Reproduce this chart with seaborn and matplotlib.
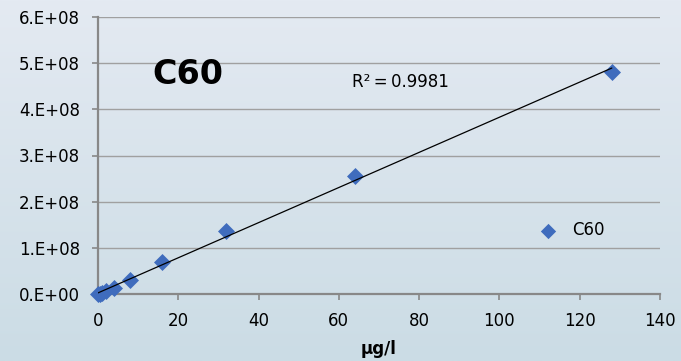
import numpy as np
import pandas as pd
import matplotlib
matplotlib.use("Agg")
import matplotlib.pyplot as plt
import seaborn as sns
from matplotlib.ticker import FuncFormatter, MultipleLocator

# Data
concentration = [0, 0.5, 1, 2, 4, 8, 16, 32, 64, 128]
signal = [0.0e8, 0.01e8, 0.03e8, 0.06e8, 0.13e8, 0.30e8, 0.70e8, 1.36e8, 2.56e8, 4.81e8]
series_name = "C60"
title_text = "C60"
r2_text = "R²\u2009=\u20090.9981"
x_label = "μg/l"

df = pd.DataFrame({"x": concentration, "y": signal})

sns.set_style("white")
plt.rcParams['font.family'] = ['DejaVu Sans']
plt.rcParams['text.color'] = 'black'
plt.rcParams['axes.labelcolor'] = 'black'
plt.rcParams['xtick.color'] = 'black'
plt.rcParams['ytick.color'] = 'black'

fig = plt.figure(figsize=(6.81, 3.61), dpi=100)

# gradient background
bg = fig.add_axes([0, 0, 1, 1], zorder=-10)
top = np.array([228, 234, 242]) / 255
bot = np.array([203, 220, 229]) / 255
t = np.linspace(0, 1, 256)[:, None]
grad = (top[None, :] * (1 - t) + bot[None, :] * t)[:, None, :]
bg.imshow(grad, aspect='auto', extent=[0, 1, 0, 1])
bg.axis('off')

ax = fig.add_axes([98/681, 1 - 294/361, (660-98)/681, (294-17)/361])
ax.set_facecolor('none')

blue = '#3f6cbd'
sns.scatterplot(data=df, x="x", y="y", marker='D', s=75, color=blue,
                edgecolor=blue, linewidth=0, ax=ax, label=series_name, zorder=3,
                clip_on=False)

# linear trendline
coef = np.polyfit(concentration, signal, 1)
xs = np.array([min(concentration), max(concentration)])
ax.plot(xs, np.polyval(coef, xs), color='black', lw=0.9, zorder=4)

ax.set_xlim(0, 140)
ax.set_ylim(0, 6e8)
ax.xaxis.set_major_locator(MultipleLocator(20))
ax.yaxis.set_major_locator(MultipleLocator(1e8))

def yfmt(v, pos):
    if abs(v) < 1:
        return "0.E+00"
    return f"{v/1e8:.0f}.E+08"
ax.yaxis.set_major_formatter(FuncFormatter(yfmt))

ax.grid(axis='y', color='#a0a0a0', lw=1.0)
ax.grid(axis='x', visible=False)
for s in ['top', 'right']:
    ax.spines[s].set_visible(False)
for s in ['left', 'bottom']:
    ax.spines[s].set_color('#888888')
    ax.spines[s].set_linewidth(1.6)
ax.tick_params(axis='both', direction='out', length=4, width=1.2, color='#888888',
               labelsize=12, labelcolor='black', pad=9)
ax.tick_params(axis='y', left=True)
ax.tick_params(axis='x', bottom=True)

ax.set_xlabel(x_label, fontsize=12, fontweight='bold', labelpad=7, color='black')
ax.set_ylabel("")

fig.text(152/681, 1 - 75/361, title_text, fontsize=24, fontweight='bold',
         ha='left', va='center', color='black')
fig.text(352/681, 1 - 82/361, r2_text, fontsize=12, ha='left', va='center',
         color='black')

leg = ax.legend(loc='center left', bbox_to_anchor=((525-98)/562, (294-230)/277),
                frameon=False, fontsize=12, handletextpad=0.4, markerscale=0.9,
                borderaxespad=0)
for txt in leg.get_texts():
    txt.set_color('black')

fig.savefig("out.png", dpi=100)
